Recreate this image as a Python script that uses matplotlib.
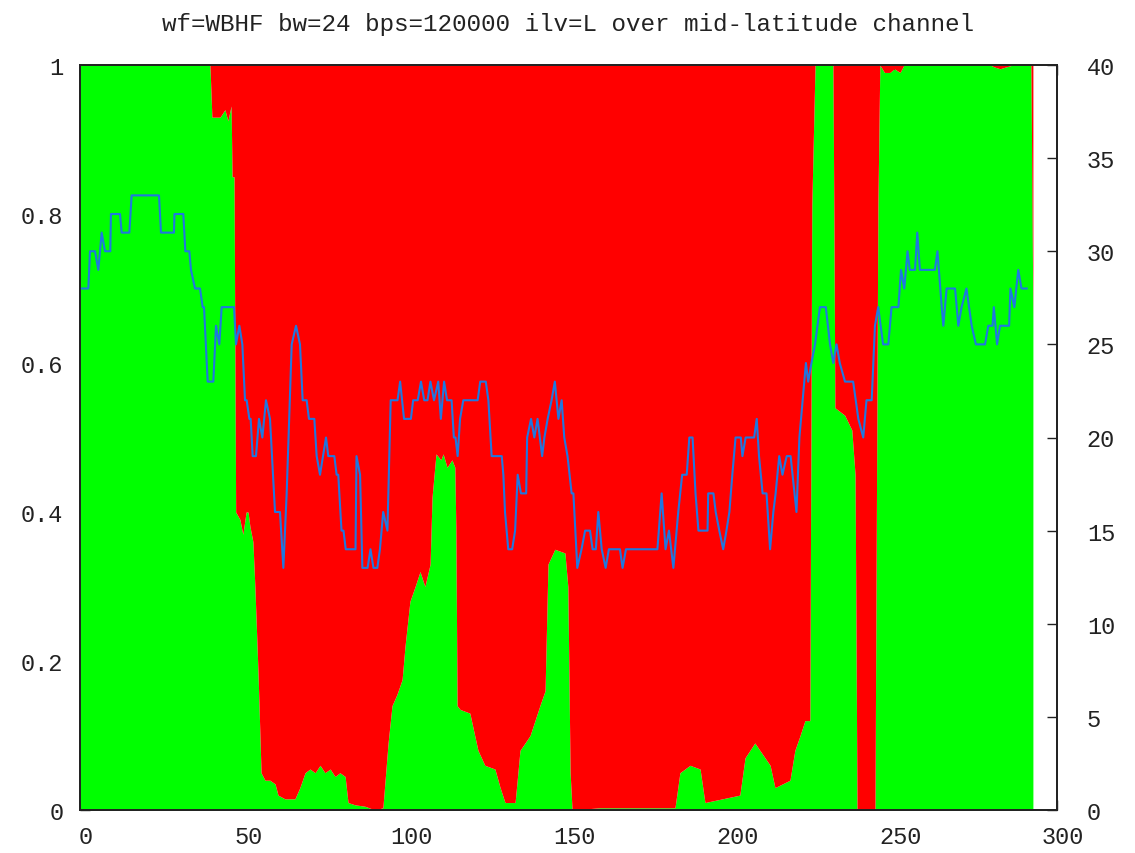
import matplotlib
matplotlib.use('Agg')
import matplotlib.pyplot as plt
from matplotlib.transforms import ScaledTranslation

# ---------------- dados ----------------
# fraction (left axis): green from 0 up to the value, red from it up to 1
frac_x = [0, 39.3, 39.9, 40.5, 43.0, 44.5, 45.4, 46.4, 46.7, 47.3, 47.8, 49.1, 50.0, 51.0,
          51.6, 52.2, 53.1, 53.7, 54.7, 55.6, 56.8, 58.3, 59.9, 60.8, 62.9, 66.0, 67.5,
          69.1, 70.6, 72.2, 73.7, 75.2, 76.8, 78.3, 79.8, 81.4, 82.3, 84.4, 87.5, 90.6,
          93.0, 94.6, 95.8, 97.3, 98.9, 99.8, 101.3, 102.9, 104.4, 105.9, 107.5, 108.1,
          109.3, 110.8, 111.5, 112.7, 114.2, 115.1, 115.4, 115.8, 116.7, 119.7, 122.2,
          124.3, 127.4, 129.0, 130.5, 133.6, 135.1, 138.2, 141.2, 142.8, 143.7, 145.8,
          148.9, 149.8, 150.5, 151.1, 159.7, 175.0, 182.7, 184.2, 187.3, 190.4, 191.9,
          202.6, 204.2, 207.2, 211.9, 213.4, 218.0, 219.5, 221.1, 222.6, 224.1, 224.7,
          225.7, 231.2, 231.5, 231.8, 234.8, 237.0, 238.0, 238.6, 244.1, 245.0, 245.6,
          247.0, 248.7, 250.0, 251.8, 253.0, 279.4, 281.0, 282.5, 284.0, 286.5, 292.0, 292.6]
frac_y = [1, 1, 1, 0.93, 0.93, 0.94, 0.925, 0.945, 0.85, 0.85, 0.40, 0.39, 0.37, 0.40,
          0.40, 0.38, 0.36, 0.30, 0.18, 0.05, 0.04, 0.04, 0.035, 0.02, 0.015, 0.015, 0.03,
          0.05, 0.055, 0.05, 0.06, 0.05, 0.055, 0.045, 0.05, 0.045, 0.01, 0.007, 0.005, 0.0,
          0.003, 0.09, 0.14, 0.155, 0.175, 0.22, 0.28, 0.30, 0.32, 0.30, 0.33, 0.42,
          0.478, 0.47, 0.478, 0.46, 0.47, 0.46, 0.38, 0.14, 0.135, 0.13, 0.08,
          0.06, 0.055, 0.03, 0.01, 0.01, 0.08, 0.10, 0.14, 0.16, 0.33, 0.35,
          0.345, 0.30, 0.05, 0.0, 0.003, 0.003, 0.003, 0.05, 0.06, 0.055, 0.01,
          0.02, 0.07, 0.09, 0.06, 0.03, 0.04, 0.08, 0.10, 0.12, 0.12, 0.81,
          1.0, 1.0, 0.79, 0.54, 0.53, 0.51, 0.45, 0.0, 0.0, 0.81, 1.0,
          0.99, 0.99, 0.995, 0.99, 1.0, 1.0, 0.997, 0.995, 0.997, 1.0, 1.0, 0.66]

# right axis series
linha_x = [0, 2.56, 3.07, 4.6, 5.63, 6.65, 7.68, 9.3, 9.5, 12.28, 12.79, 15.15, 15.86, 24.26,
           24.87, 28.86, 29.0, 31.73, 32.34, 33.57, 34.08, 35.31, 36.85, 37.67, 38.08, 39.2,
           40.94, 41.76, 42.78, 43.5, 47.29, 47.9, 48.93, 49.85, 50.67, 51.18, 52.0, 52.4,
           53.02, 54.04, 54.96, 55.99, 57.11, 58.34, 59.88, 61.41, 62.44, 63.46, 65.0, 66.33,
           67.55, 68.37, 69.6, 70.3, 71.95, 72.67, 73.7, 75.54, 76.24, 78.09, 78.8, 79.3,
           80.3, 80.9, 81.6, 84.6, 84.9, 86.0, 86.7, 88.3, 89.2, 90.1, 91.3, 92.1, 93.1,
           94.4, 95.4, 97.5, 98.3, 99.5, 101.6, 102.3, 103.7, 104.7, 105.7, 106.7, 107.6,
           108.7, 110.0, 110.8, 111.8, 112.7, 114.1, 114.8, 115.3, 115.96, 116.7, 117.7,
           122.1, 122.9, 124.6, 125.4, 126.4, 129.5, 130.0, 130.5, 131.5, 132.7, 133.6,
           134.4, 135.4, 137.0, 137.3, 138.5, 139.5, 140.5, 141.9, 142.6, 143.6, 144.8,
           145.8, 146.9, 147.9, 148.7, 149.7, 150.96, 151.5, 152.7, 154.0, 155.1, 156.6,
           157.4, 158.4, 159.15, 160.2, 161.4, 162.4, 165.8, 166.6, 167.65, 177.3, 178.6,
           179.8, 180.85, 182.2, 183.7, 184.9, 186.3, 187.1, 188.1, 189.0, 189.9, 192.7,
           192.9, 194.5, 195.2, 196.3, 197.5, 198.5, 199.4, 200.3, 201.3, 202.9, 203.4,
           204.4, 207.0, 207.8, 208.5, 209.6, 210.8, 211.9, 212.9, 213.6, 214.7, 215.7,
           217.0, 218.2, 218.8, 220.0, 220.9, 221.9, 222.9, 223.6, 224.6, 225.7, 227.2,
           229.0, 230.3, 231.3, 232.3, 233.3, 234.9, 237.4, 239.0, 240.5, 241.5, 243.1,
           244.1, 245.1, 246.6, 248.2, 249.2, 251.3, 252.1, 253.1, 254.1, 254.8, 256.4,
           257.1, 257.9, 262.5, 263.3, 264.6, 265.1, 266.1, 268.7, 269.7, 270.7, 272.2,
           273.8, 275.1, 277.9, 278.9, 280.2, 280.6, 281.6, 282.5, 285.3, 285.7, 286.9,
           288.1, 289.1, 290.7]
linha_y = [28, 28, 30, 30, 29, 31, 30, 30, 32, 32, 31, 31, 33, 33,
           31, 31, 32, 32, 30, 30, 29, 28, 28, 27, 27, 23,
           23, 26, 25, 27, 27, 25, 26, 25, 22, 22, 21, 21,
           19, 19, 21, 20, 22, 21, 16, 16, 13, 17, 25, 26,
           25, 22, 22, 21, 21, 19, 18, 20, 19, 19, 18, 18,
           15, 15, 14, 14, 19, 18, 13, 13, 14, 13, 13, 14, 16,
           15, 22, 22, 23, 21, 21, 22, 22, 23, 22, 22, 23,
           22, 23, 21, 23, 22, 22, 20, 20, 19, 21, 22,
           22, 23, 23, 22, 19, 19, 18, 16, 14, 14, 15,
           18, 17, 17, 20, 21, 20, 21, 19, 20, 21, 22,
           23, 21, 22, 20, 19, 17, 17, 13, 14, 15, 15,
           14, 14, 16, 14, 13, 14, 14, 13, 14, 14, 17,
           14, 15, 13, 16, 18, 18, 20, 20, 17, 15, 15,
           17, 17, 16, 15, 14, 15, 16, 18, 20, 20, 19,
           20, 20, 21, 19, 17, 17, 14, 16, 17, 19, 18,
           19, 19, 18, 16, 20, 22, 24, 23, 24, 25, 27,
           27, 25, 24, 25, 24, 23, 23, 21, 20, 22, 22,
           26, 27, 25, 25, 27, 27, 29, 28, 30, 29, 29,
           31, 29, 29, 30, 27, 26, 28, 28, 26, 27, 28,
           26, 25, 25, 26, 26, 27, 25, 26, 26, 28,
           27, 29, 28, 28]

titulo = 'wf=WBHF bw=24 bps=120000 ilv=L over mid-latitude channel'

# ---------------- grafico ----------------
plt.rcParams['font.family'] = ['Liberation Mono', 'DejaVu Sans Mono']
fig = plt.figure(figsize=(11.35, 8.54), dpi=100)
ax = fig.add_axes([80 / 1135, 43 / 854, 977 / 1135, 745 / 854])

ax.fill_between(frac_x, 0, frac_y, color='#00ff00', linewidth=0, zorder=1)
ax.fill_between(frac_x, frac_y, 1, color='#ff0000', linewidth=0, zorder=1)
ax.set_xlim(0, 300)
ax.set_ylim(0, 1)
ax.set_axisbelow(True)
ax.set_xticks(range(0, 301, 50))
ax.set_yticks([0, 0.2, 0.4, 0.6, 0.8, 1])
ax.set_yticklabels(['0', '0.2', '0.4', '0.6', '0.8', '1'])
ax.tick_params(direction='in', length=7, width=1, top=True, right=True,
               labelsize=17, colors='#222222')
ax.tick_params(axis='y', pad=12)
ax.tick_params(axis='x', pad=11)
# gnuplot puts the x labels a few pixels right of the tick
desloc = ScaledTranslation(6 / 100, 0, fig.dpi_scale_trans)
for lab in ax.get_xticklabels():
    lab.set_transform(lab.get_transform() + desloc)

ax2 = ax.twinx()
ax2.plot(linha_x, linha_y, color='#1f78e0', linewidth=1.5)
ax2.set_ylim(0, 40)
ax2.set_yticks(range(0, 41, 5))
ax2.tick_params(direction='in', length=7, width=1, labelsize=17, pad=21.5, colors='#222222')

for a in (ax, ax2):
    for s in a.spines.values():
        s.set_linewidth(1.3)
        s.set_color('#222222')

fig.suptitle(titulo, fontsize=17.5, y=0.985, color='#222222')

fig.savefig('out.png', dpi=100)
